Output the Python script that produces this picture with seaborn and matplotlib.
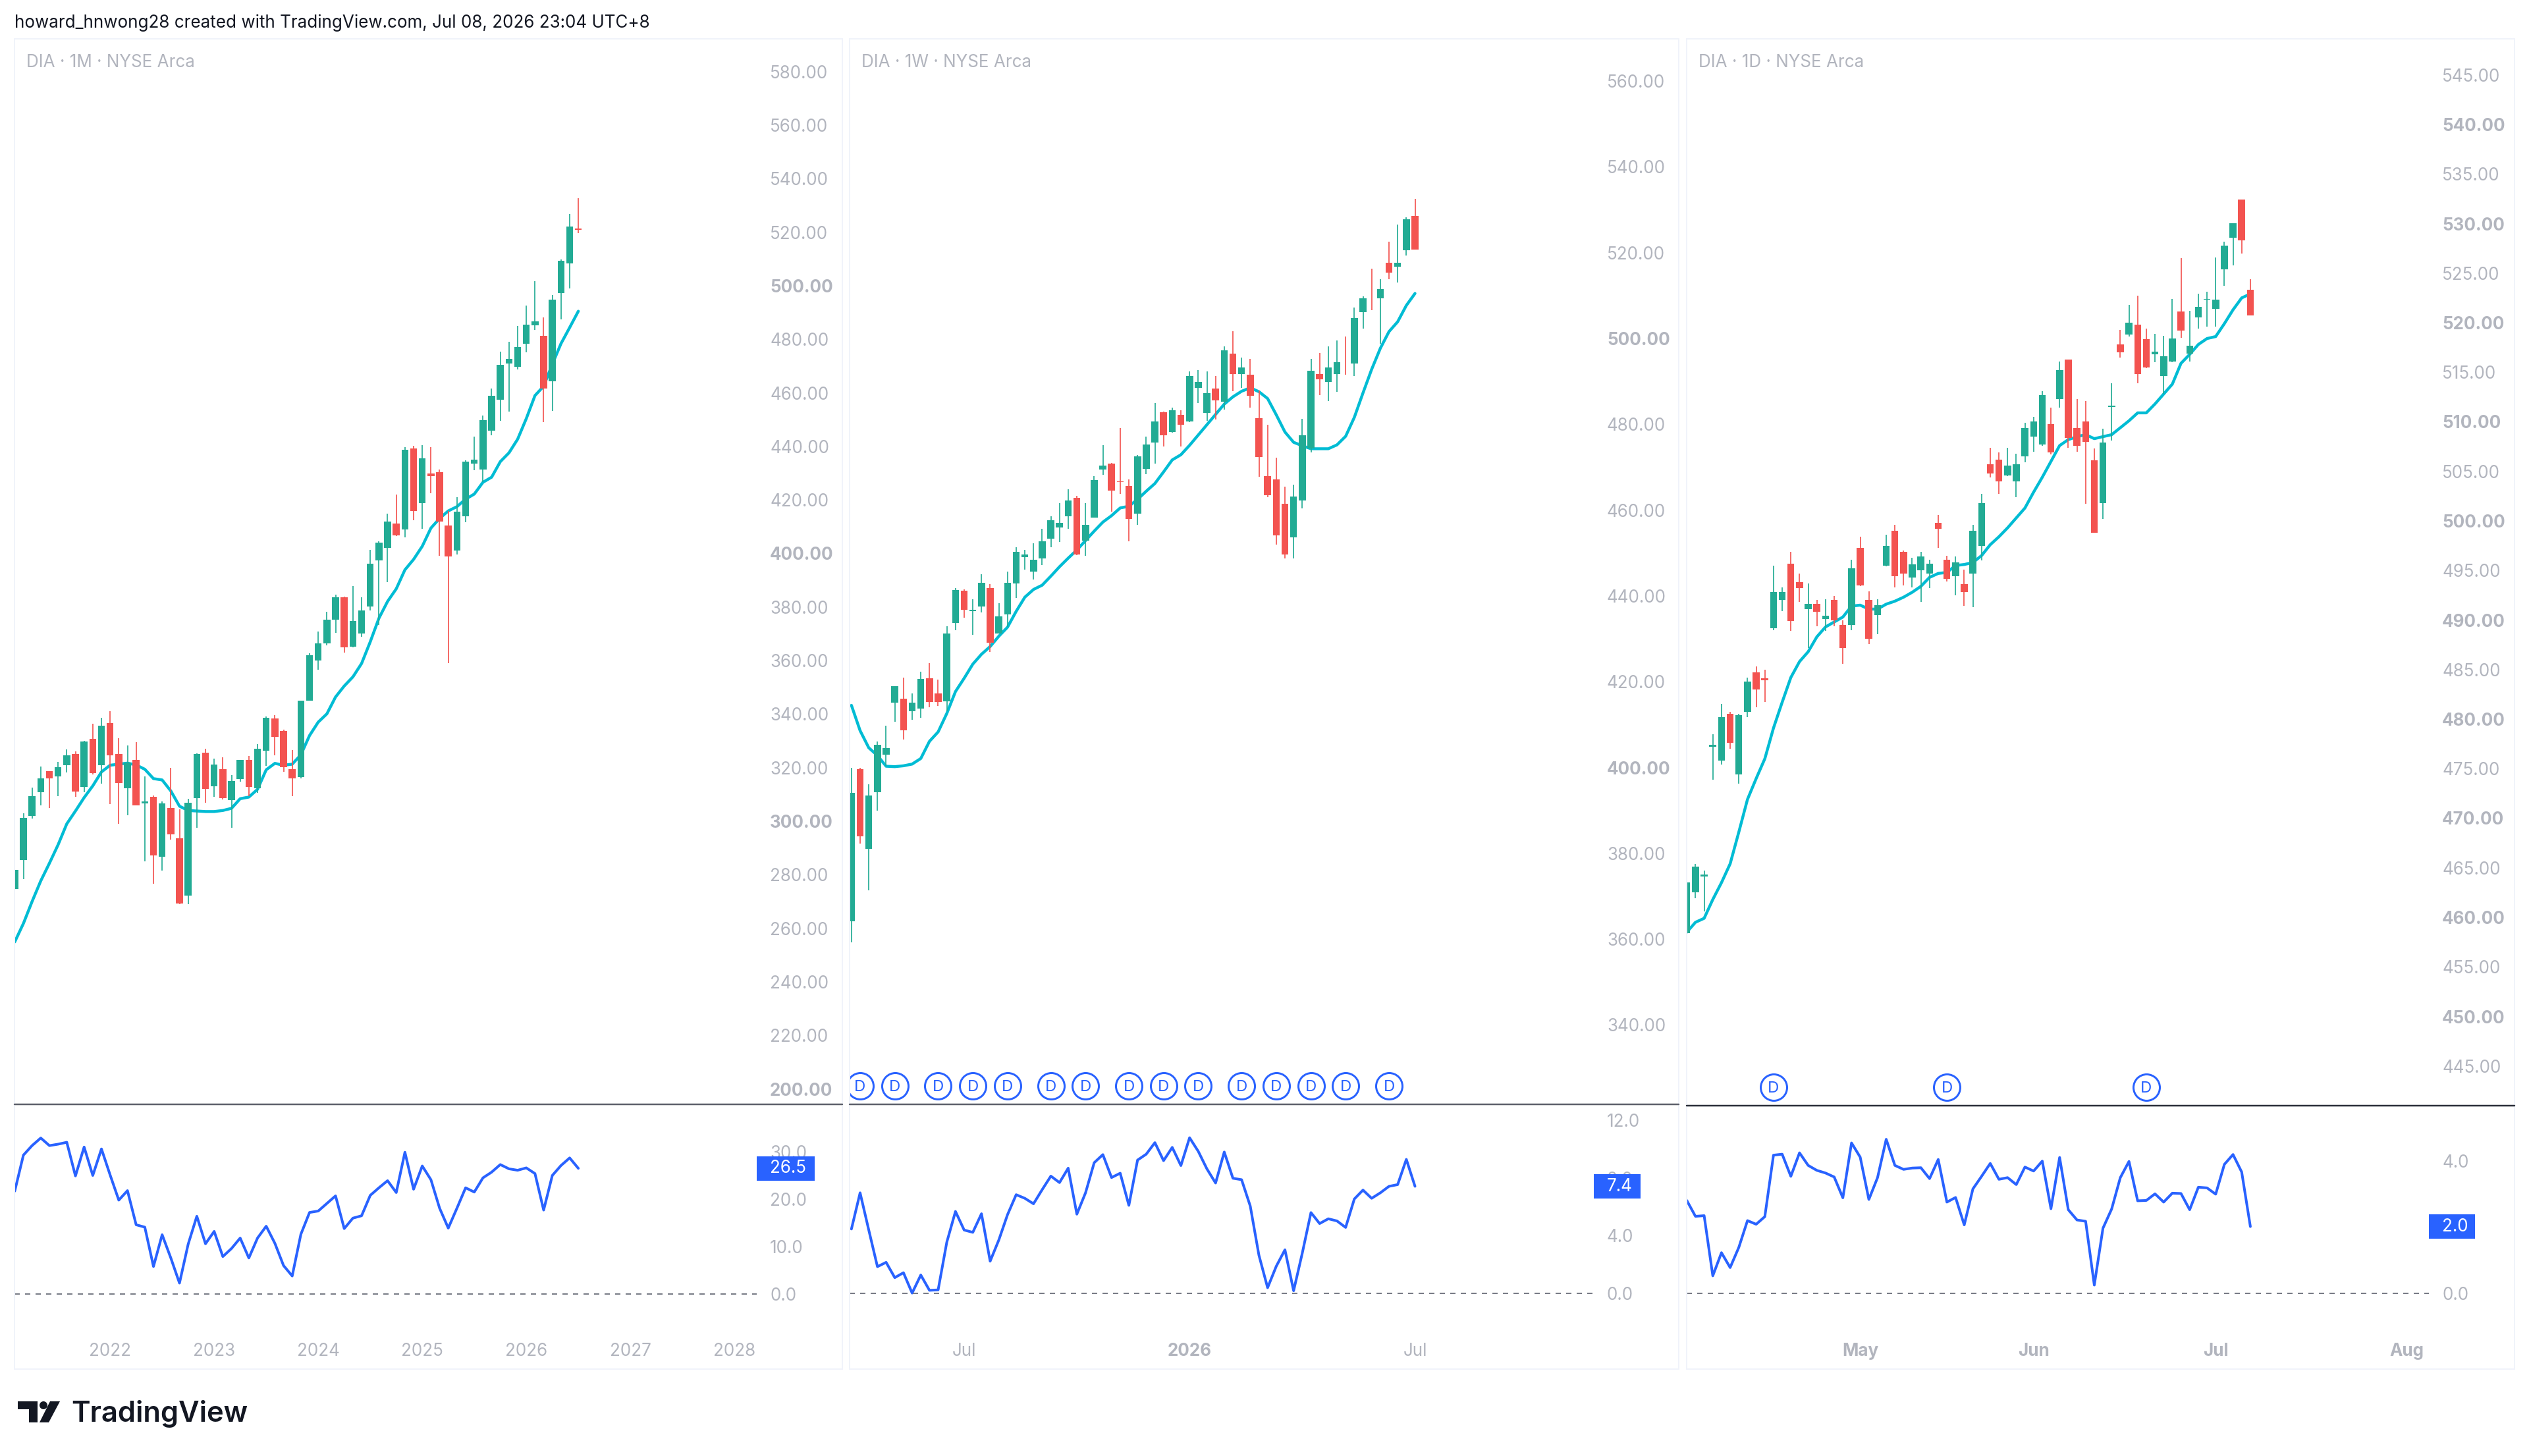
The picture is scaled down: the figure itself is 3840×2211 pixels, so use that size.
import numpy as np
import pandas as pd
import seaborn as sns
from matplotlib import pyplot as plt
from matplotlib.patches import Rectangle, Circle, Polygon

W, H = 3840, 2211
GREEN = "#22ab94"
RED = "#f35350"
CYAN = "#00bcd4"
BLUE = "#2962ff"
GREY = "#b2b5be"
FRAME = "#f0f3fa"

# Monthly
m_open = [274.7,285.5,301.9,310.9,318.7,316.7,321.0,325.2,312.9,330.7,320.9,336.6,325.0,312.3,323.0,306.6,309.1,286.6,304.9,293.7,272.3,308.6,325.7,313.0,319.5,307.8,315.7,323.0,312.2,326.3,338.3,333.6,319.5,316.4,345.0,360.0,366.5,375.2,383.7,365.2,370.2,380.2,397.4,402.2,411.3,408.9,439.2,418.7,429.9,430.3,410.5,401.1,414.0,433.6,431.4,445.8,457.4,470.9,469.8,478.3,485.3,481.3,464.4,497.3,508.4,521.4]
m_close = [281.8,301.3,309.3,316.0,315.9,320.2,324.7,311.0,329.7,317.9,335.6,324.6,314.3,321.8,306.0,307.3,287.1,306.6,295.1,269.3,307.0,325.2,312.0,321.2,308.5,314.9,323.0,312.8,327.1,338.6,331.5,320.2,316.0,345.0,361.9,366.3,375.3,383.7,364.9,374.7,378.8,396.2,404.1,412.0,406.8,438.7,415.9,435.6,429.0,412.0,398.9,415.5,434.3,435.0,449.9,458.8,470.5,472.6,477.0,485.5,486.8,461.6,494.8,509.4,522.2,520.8]
m_high = [291.5,303.0,312.5,320.4,318.7,322.2,326.8,326.0,330.0,336.3,338.6,341.1,331.0,328.2,329.4,316.7,309.6,307.3,320.0,304.4,308.4,325.4,327.0,323.4,323.8,317.3,323.0,324.3,328.8,339.1,339.5,334.1,326.6,345.1,362.7,370.8,378.2,384.6,383.9,387.7,383.7,401.3,404.6,415.0,422.1,439.7,440.2,440.4,439.8,431.4,415.9,421.1,434.7,443.6,451.5,461.7,475.3,479.2,485.0,492.7,501.6,488.2,496.5,509.9,526.7,532.6]
m_low = [272.8,278.4,301.1,306.0,305.0,309.3,318.2,309.0,310.8,317.5,313.9,306.5,298.9,302.1,305.8,285.0,276.6,281.5,293.0,269.0,268.9,297.5,306.9,309.1,308.0,297.5,314.8,309.4,310.7,320.7,324.7,318.5,309.3,315.9,345.0,356.6,365.8,370.4,363.0,365.0,369.0,378.6,373.3,389.2,406.4,406.0,412.4,409.3,422.5,399.1,359.1,399.6,411.7,431.2,426.8,444.1,449.5,452.9,468.7,475.1,483.5,449.0,453.2,487.5,499.0,519.6]
m_ma = [254.9,261.8,270.0,277.7,284.3,291.2,299.0,303.8,308.8,313.2,318.4,320.9,321.3,321.7,321.0,319.4,315.9,315.4,311.3,305.6,304.0,303.8,303.6,303.6,304.0,304.8,308.4,309.0,311.9,319.2,321.6,320.9,321.3,324.8,332.0,337.0,340.1,346.4,350.5,353.9,358.9,367.0,375.8,382.1,386.8,393.9,397.8,402.7,409.5,413.1,415.9,417.5,420.3,422.2,426.6,428.5,434.3,437.6,442.7,450.4,459.0,462.5,470.7,478.4,484.4,490.5]
m_ind = [21.7,29.3,31.3,32.9,31.3,31.6,32.0,24.9,31.0,25.0,30.6,25.1,19.8,21.8,14.6,14.1,5.8,12.5,7.6,2.3,10.5,16.4,10.6,13.2,7.9,9.6,11.8,7.6,11.8,14.3,10.7,6.0,3.8,12.6,17.2,17.5,19.1,20.7,13.8,16.0,16.5,20.8,22.4,23.9,21.4,29.9,22.1,27.0,24.1,18.1,13.9,18.1,22.4,21.5,24.5,25.7,27.3,26.4,26.1,26.6,25.4,17.7,25.0,27.1,28.7,26.5]

# Weekly
w_open = [364.1,399.6,381.1,394.2,403.0,415.1,416.0,413.1,413.7,420.8,417.3,415.5,433.7,441.2,436.5,437.6,441.9,431.3,435.7,442.9,449.1,445.6,448.8,453.4,455.9,458.5,462.9,452.9,458.3,469.5,470.8,466.7,465.6,459.2,469.6,475.8,482.8,478.2,482.2,480.7,488.5,482.7,488.3,485.3,496.5,491.7,491.5,481.4,467.9,467.2,461.5,453.7,462.3,474.3,491.7,489.8,491.7,494.2,494.2,506.1,508.5,509.3,517.7,516.7,520.5,528.6]
w_close = [394.1,384.0,393.5,405.3,404.6,418.9,408.7,415.1,420.6,415.2,415.3,431.2,441.4,436.8,436.8,443.0,429.1,435.3,443.0,450.2,449.6,448.5,452.8,457.6,457.0,462.2,449.6,456.6,467.0,470.3,464.6,466.5,458.0,472.5,475.3,480.7,477.5,483.3,479.9,491.2,489.9,487.3,485.5,497.3,491.7,493.2,486.7,472.3,463.4,454.1,449.6,463.1,477.4,492.5,490.5,493.2,494.5,494.1,504.7,509.3,508.4,511.5,515.4,517.7,527.8,520.7]
w_high = [400.0,400.0,396.1,406.1,409.8,419.0,420.9,417.3,422.3,424.3,420.5,432.9,441.8,441.5,439.2,445.0,442.8,438.3,445.6,451.4,450.7,452.2,455.7,458.5,461.7,464.9,463.3,461.6,467.9,475.1,471.0,479.1,467.1,472.9,477.2,484.9,482.9,483.9,483.2,492.4,492.6,492.4,491.2,498.1,501.7,495.6,495.2,487.9,479.9,472.2,465.4,466.0,481.3,495.3,496.6,498.2,499.5,500.4,507.2,509.9,516.2,513.8,522.6,526.5,528.2,532.5]
w_low = [359.3,382.2,371.3,390.0,400.4,410.7,406.5,411.2,411.6,414.0,414.4,413.2,432.0,434.9,431.0,436.2,427.0,431.2,432.8,439.6,446.1,443.8,447.2,451.3,452.5,455.7,449.5,449.4,458.2,468.2,459.7,463.7,452.7,456.5,468.4,470.8,474.8,478.1,474.8,480.5,484.9,480.8,481.1,483.4,487.7,488.5,483.9,467.7,463.0,451.9,448.8,448.7,460.4,473.4,486.8,485.4,487.5,491.5,491.2,502.3,506.6,498.8,513.8,513.0,519.4,520.7]
w_ma = [414.5,408.6,404.6,402.8,400.3,400.2,400.4,400.8,402.1,406.1,408.3,412.6,417.7,420.8,424.1,426.4,428.2,430.6,432.7,436.4,439.7,441.5,442.5,444.6,446.8,448.8,450.7,452.9,455.1,457.2,458.7,460.5,460.9,462.5,464.4,466.2,468.9,471.7,472.9,475.1,477.5,479.9,482.3,484.7,486.4,487.7,488.5,487.6,486.0,482.2,478.2,475.8,475.0,474.3,474.3,474.3,475.2,477.2,481.6,487.3,492.8,497.7,501.6,503.9,507.7,510.5]
w_ind = [4.46,6.97,4.39,1.85,2.15,1.09,1.43,0.02,1.27,0.21,0.24,3.55,5.68,4.39,4.23,5.52,2.23,3.7,5.45,6.84,6.59,6.21,7.19,8.13,7.68,8.68,5.49,6.97,9.06,9.62,8.03,8.33,6.1,9.24,9.65,10.45,9.2,10.12,8.86,10.79,9.85,8.63,7.65,9.8,7.98,7.88,6.05,2.64,0.39,1.88,3.02,0.18,2.79,5.6,4.84,5.17,5.02,4.57,6.54,7.16,6.59,6.97,7.42,7.54,9.29,7.42]
w_div = [1, 5, 10, 14, 18, 23, 27, 32, 36, 40, 45, 49, 53, 57, 62]

# Daily
d_open = [458.4,462.5,464.1,477.2,475.8,480.5,474.4,480.7,484.7,484.1,489.2,492.0,495.7,493.8,491.1,491.6,490.1,492.0,489.5,489.5,497.3,492.0,490.5,495.5,499.0,496.9,494.3,495.0,494.7,499.8,496.1,494.4,493.6,494.7,497.5,505.7,506.2,504.6,504.0,506.5,508.5,507.7,509.8,512.3,516.3,509.4,510.06,506.1,501.8,511.47,517.8,518.8,519.8,518.35,516.8,514.6,516.1,521.1,516.9,520.55,522.3,521.4,525.4,528.6,532.4,523.3]
d_close = [463.5,465.1,464.3,477.4,480.2,477.6,480.4,483.8,483.0,483.9,492.8,492.8,489.9,493.25,491.6,490.8,490.4,490.0,487.2,495.2,493.5,488.1,491.5,497.5,494.4,494.7,495.6,496.4,495.65,499.2,494.15,495.8,492.8,499.0,501.8,504.8,504.0,505.6,505.7,509.4,510.0,512.7,506.9,515.2,508.4,507.6,508.0,498.8,507.9,511.63,517.0,520.0,514.8,515.5,517.05,516.6,518.4,519.2,517.7,521.6,522.4,522.3,527.8,530.0,528.3,520.7]
d_high = [465.9,465.4,464.7,478.5,481.5,480.7,480.5,484.2,485.3,485.0,495.5,493.3,496.9,494.7,493.7,492.0,492.1,492.4,490.0,496.1,498.4,492.9,492.1,498.6,499.6,497.0,496.3,496.9,496.1,500.6,496.5,496.4,495.1,499.6,502.7,507.4,506.9,507.4,506.8,509.9,510.5,513.1,511.4,516.1,516.3,512.3,512.1,507.3,509.3,513.9,519.3,521.8,522.7,519.4,518.9,518.7,522.4,526.5,521.2,522.9,523.1,526.6,528.2,530.0,532.4,524.4]
d_low = [457.3,461.9,460.6,473.9,475.4,477.0,473.5,480.2,481.2,481.7,489.0,490.9,488.9,491.8,487.2,489.4,488.9,489.4,485.6,489.0,493.4,487.6,488.6,495.4,493.3,493.5,493.3,491.8,493.2,497.3,493.9,492.5,491.4,491.3,496.0,504.4,502.7,504.5,502.4,505.9,507.0,507.6,506.7,511.4,507.4,507.0,501.7,498.8,500.2,508.1,516.5,518.6,513.9,515.4,516.0,512.8,516.0,518.5,516.1,519.4,519.6,519.6,523.7,525.8,527.0,520.7]
d_ma = [458.5,459.5,459.9,461.8,463.5,465.4,468.6,471.9,474.0,476.0,479.1,481.7,484.2,485.8,486.8,488.3,489.3,489.8,490.3,491.4,491.5,491.1,491.1,491.6,491.9,492.3,492.8,493.4,494.3,494.7,494.8,495.5,495.6,495.8,496.5,497.6,498.4,499.3,500.3,501.3,502.9,504.4,506.0,507.6,508.2,508.5,508.7,508.3,508.5,508.7,509.4,510.1,510.9,510.9,511.8,512.8,513.8,515.9,516.8,517.8,518.4,518.6,519.9,521.3,522.5,522.9]
d_ind = [2.81,2.33,2.35,0.53,1.23,0.78,1.39,2.2,2.09,2.32,4.18,4.21,3.54,4.25,3.87,3.72,3.64,3.52,2.89,4.55,4.12,2.84,3.5,4.66,3.87,3.75,3.79,3.8,3.47,4.05,2.76,2.9,2.07,3.16,3.54,3.93,3.45,3.5,3.29,3.82,3.7,4.0,2.56,4.11,2.53,2.22,2.18,0.25,1.97,2.55,3.5,3.99,2.8,2.81,3.01,2.76,3.03,3.02,2.53,3.21,3.19,3.0,3.9,4.2,3.67,2.02]
d_div = [10, 30, 53]

m_xticks, m_xlabels = [11, 23, 35, 47, 59, 71, 83], ["2022", "2023", "2024", "2025", "2026", "2027", "2028"]
w_xticks, w_xlabels = [13, 39, 65], ["Jul", "2026", "Jul"]
d_xticks, d_xlabels = [20, 40, 61, 83], ["May", "Jun", "Jul", "Aug"]
m_yticks = list(range(200, 600, 20))
w_yticks = list(range(340, 580, 20))
d_yticks = list(range(445, 550, 5))
m_ind_ticks = [0, 10, 20, 30]
w_ind_ticks = [0, 4, 8, 12]
d_ind_ticks = [0, 4]

sns.set_theme(style="white")
plt.rcParams["font.family"] = ["Inter", "DejaVu Sans"]
plt.rcParams["axes.facecolor"] = "none"

fig = plt.figure(figsize=(W / 100, H / 100), dpi=100, facecolor="white")
PT = 0.72  # points per pixel at dpi 100


def px_axes(left, top, right, bottom):
    return fig.add_axes([left / W, 1 - bottom / H, (right - left) / W, (bottom - top) / H])


overlay = fig.add_axes([0, 0, 1, 1], zorder=10)
overlay.set_xlim(0, W)
overlay.set_ylim(H, 0)
overlay.axis("off")

panels = [
    dict(title="DIA · 1M · NYSE Arca", left=22, plot_right=1149, right=1279, x0=22.4, sep=1676.5, sep_col="#5d606b",
         anchor=(500, 434.0), scale=4.065, zero=1965, ind_scale=7.2, opn=m_open, cls=m_close, high=m_high, low=m_low,
         ma=m_ma, ind=m_ind, yticks=m_yticks, ind_ticks=m_ind_ticks, xticks=m_xticks, xlabels=m_xlabels, bold=100,
         box_w=88, box_txt="26.5", div=[], div_px=0, x_bold=m_xlabels[:0]),
    dict(title="DIA · 1W · NYSE Arca", left=1290, plot_right=2420, right=2549, x0=1292.8, sep=1676.7, sep_col="#5d606b",
         anchor=(500, 514), scale=6.515, zero=1964, ind_scale=21.9, opn=w_open, cls=w_close, high=w_high, low=w_low,
         ma=w_ma, ind=w_ind, yticks=w_yticks, ind_ticks=w_ind_ticks, xticks=w_xticks, xlabels=w_xlabels, bold=100,
         box_w=71, box_txt="7.4", div=w_div, div_px=1648.5, x_bold=["2026"]),
    dict(title="DIA · 1D · NYSE Arca", left=2561, plot_right=3688, right=3818, x0=2561.2, sep=1678.7, sep_col="#2a2e39",
         anchor=(500, 791), scale=15.05, zero=1964, ind_scale=50.2, opn=d_open, cls=d_close, high=d_high, low=d_low,
         ma=d_ma, ind=d_ind, yticks=d_yticks, ind_ticks=d_ind_ticks, xticks=d_xticks, xlabels=d_xlabels, bold=10,
         box_w=70, box_txt="2.0", div=d_div, div_px=1650.5, x_bold=d_xlabels),
]

SPACING = 13.165
TOP, AXIS_BOTTOM, FRAME_BOTTOM = 59, 2028, 2079

for p in panels:
    idx = np.arange(len(p["opn"]))
    overlay.add_patch(Rectangle((p["left"], TOP), p["right"] - p["left"], FRAME_BOTTOM - TOP, fill=False, ec=FRAME, lw=2 * PT))
    overlay.text(p["left"] + 18, 95, p["title"], color=GREY, fontsize=26 * PT, va="center", ha="left")
    overlay.plot([p["left"], p["right"]], [p["sep"], p["sep"]], color=p["sep_col"], lw=2.5 * PT)

    xlim = ((p["left"] - p["x0"]) / SPACING, (p["plot_right"] - p["x0"]) / SPACING)
    price_at = lambda y: p["anchor"][0] - (y - p["anchor"][1]) / p["scale"]

    # candles
    ax = px_axes(p["left"], TOP, p["plot_right"], p["sep"])
    df = pd.DataFrame({"i": idx, "open": p["opn"], "close": p["cls"], "high": p["high"], "low": p["low"], "ma": p["ma"]})
    df["color"] = np.where(df["close"] >= df["open"], GREEN, RED)
    sns.lineplot(data=df, x="i", y="ma", ax=ax, color=CYAN, linewidth=4.4 * PT, errorbar=None, zorder=1,
                 solid_joinstyle="round", solid_capstyle="round")
    ax.vlines(df["i"], df["low"], df["high"], colors=df["color"], linewidth=1.7 * PT, zorder=2)
    ax.bar(df["i"], (df["close"] - df["open"]).abs(), bottom=df[["open", "close"]].min(axis=1), width=0.8,
           color=df["color"], linewidth=0, zorder=3)

    if p["div"]:
        div_y = price_at(p["div_px"])
        sns.scatterplot(x=p["div"], y=[div_y] * len(p["div"]), ax=ax, s=(40 * PT) ** 2, color="white",
                        edgecolor=BLUE, linewidth=3 * PT, zorder=4, legend=False)
        for d in p["div"]:
            ax.text(d, div_y, "D", color=BLUE, fontsize=24 * PT, ha="center", va="center_baseline", zorder=5, clip_on=True)

    ax.set_xlim(*xlim)
    ax.set_ylim(price_at(p["sep"]), price_at(TOP))
    ax.set_xticks([])
    ax.yaxis.tick_right()
    ax.set_yticks(p["yticks"])
    ax.set_yticklabels([f"{v:.2f}" for v in p["yticks"]])
    ax.tick_params(axis="y", length=0, pad=20 * PT, labelsize=26 * PT, labelcolor=GREY)
    for v, lab in zip(p["yticks"], ax.get_yticklabels()):
        if v % p["bold"] == 0:
            lab.set_fontweight("bold")
    ax.set(xlabel=None, ylabel=None)
    sns.despine(ax=ax, left=True, bottom=True, right=True, top=True)

    # lower pane
    ax2 = px_axes(p["left"], p["sep"], p["plot_right"], AXIS_BOTTOM)
    sns.lineplot(x=idx, y=p["ind"], ax=ax2, color=BLUE, linewidth=4 * PT, errorbar=None,
                 solid_joinstyle="round", solid_capstyle="round")
    ax2.axhline(0, color="#787b86", lw=2 * PT, dashes=(4, 4))
    ax2.set_xlim(*xlim)
    ax2.set_ylim((p["zero"] - AXIS_BOTTOM) / p["ind_scale"], (p["zero"] - p["sep"]) / p["ind_scale"])
    ax2.yaxis.tick_right()
    ax2.set_yticks(p["ind_ticks"])
    ax2.set_yticklabels([f"{v:.1f}" for v in p["ind_ticks"]])
    ax2.tick_params(axis="y", length=0, pad=20 * PT, labelsize=26 * PT, labelcolor=GREY)
    ax2.set_xticks(p["xticks"])
    ax2.set_xticklabels(p["xlabels"])
    ax2.tick_params(axis="x", length=0, pad=11 * PT, labelsize=26 * PT, labelcolor=GREY)
    for lab in ax2.get_xticklabels():
        if lab.get_text() in p["x_bold"]:
            lab.set_fontweight("bold")
    ax2.set(xlabel=None, ylabel=None)
    sns.despine(ax=ax2, left=True, bottom=True, right=True, top=True)

    # last value tag
    tag_y = p["zero"] - p["ind"][-1] * p["ind_scale"]
    overlay.add_patch(Rectangle((p["plot_right"], tag_y - 18.5), p["box_w"], 37, fc=BLUE, ec="none"))
    overlay.text(p["plot_right"] + 20, tag_y, p["box_txt"], color="white", fontsize=26 * PT, ha="left", va="center")

overlay.text(22, 35, "howard_hnwong28 created with TradingView.com, Jul 08, 2026 23:04 UTC+8", color="#131722",
             fontsize=26 * PT, ha="left", va="center")

# logo
overlay.add_patch(Polygon([(26.5, 2128), (57, 2128), (57, 2160), (44, 2160), (44, 2140), (26.5, 2140)], fc="#131722", ec="none"))
overlay.add_patch(Circle((66, 2134), 6, fc="#131722", ec="none"))
overlay.add_patch(Polygon([(76, 2128), (91, 2128), (74, 2160), (60, 2160)], fc="#131722", ec="none"))
overlay.text(108, 2147, "TradingView", color="#131722", fontsize=43.5 * PT, fontweight="semibold", ha="left", va="center")

fig.savefig("out.png", dpi=100)
